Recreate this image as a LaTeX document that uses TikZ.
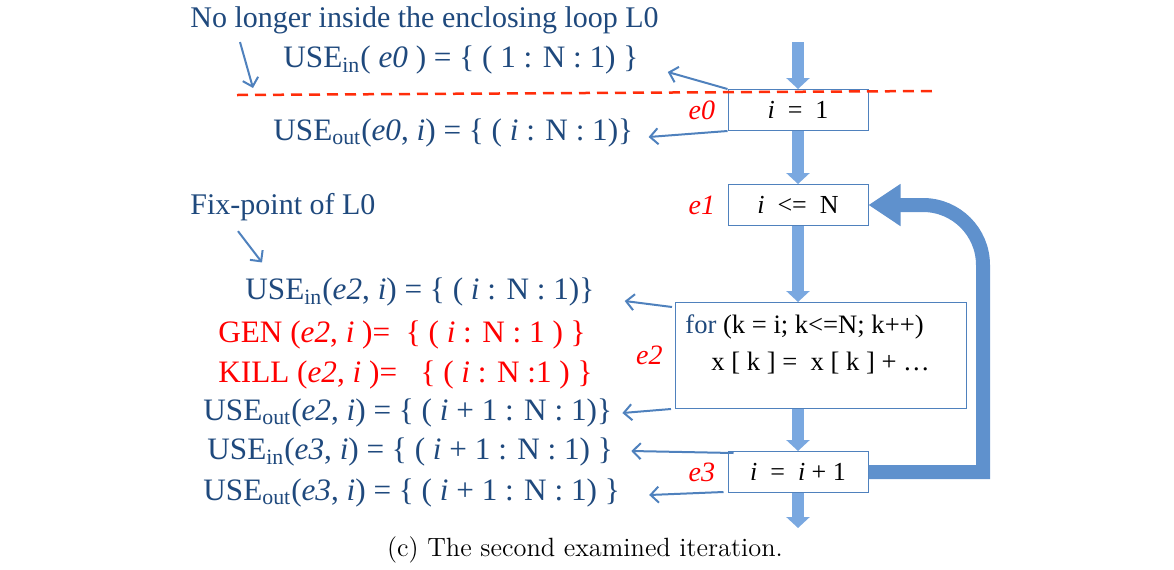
\documentclass[tikz,border=0pt]{standalone}
\usepackage{fontspec}
\newfontfamily\pptfont{Liberation Serif}
\usetikzlibrary{arrows.meta,positioning,calc}
\definecolor{txtblue}{RGB}{31,73,125}
\definecolor{linkblue}{RGB}{79,129,189}
\definecolor{flowblue}{RGB}{122,168,224}
\definecolor{loopblue}{RGB}{95,145,205}
\definecolor{cutred}{RGB}{255,45,10}

\begin{document}
\begin{tikzpicture}[x=0.5pt, y=-0.5pt,
  box/.style={rectangle, draw=linkblue, line width=0.5pt, fill=white,
              minimum width=70pt, minimum height=20.5pt, inner sep=0pt,
              font=\pptfont\fontsize{13}{15}\selectfont, text=black},
  setinfo/.style={anchor=west, inner sep=0pt, text=txtblue,
                  font=\pptfont\fontsize{15.6}{19}\selectfont},
  gensets/.style={setinfo, text=red},
  note/.style={setinfo, font=\pptfont\fontsize{15}{18}\selectfont},
  edgelbl/.style={inner sep=0pt, text=red,
                  font=\pptfont\itshape\fontsize{14}{16}\selectfont},
  flow/.style={-{Triangle[length=5.5pt, width=11.5pt]}, line width=6pt, draw=flowblue},
  pointer/.style={-{Straight Barb[length=4pt, width=8pt]}, line width=1pt, draw=linkblue},
  loopback/.style={-{Triangle[length=16pt, width=20pt]}, line width=7pt, draw=loopblue},
  cutline/.style={draw=cutred, line width=1.25pt, dash pattern=on 5.5pt off 3.5pt},
  node distance=6pt
]
  \useasboundingbox (0,0) rectangle (1174,569);

  % flow graph
  \node[box] (b0) at (798,110) {\textit{i} ~=~ 1};
  \node[box, below=26.5pt of b0] (b1) {\textit{i} ~<=~ N};
  \node[box, minimum width=145.5pt, minimum height=53pt,
        below=38pt of b1, xshift=11.5pt] (b2) {};
  \node[anchor=north west, align=left, inner sep=0pt,
        font=\pptfont\fontsize{13.3}{18.5}\selectfont]
        (b2code) at ($(b2.north west)+(10,12)$)
        {\textcolor{txtblue}{for} (k = i; k<=N; k++)\\
         \hspace*{13pt}x [ k ] = ~x [ k ] + \dots};
  \node[box, below=21pt of b2, xshift=-11.5pt] (b3) {\textit{i} ~=~ \textit{i} + 1};

  \node[edgelbl, left=of b0] (e0) {e0};
  \node[edgelbl, left=of b1] (e1) {e1};
  \node[edgelbl, left=of b2] (e2) {e2};
  \node[edgelbl, left=of b3] (e3) {e3};

  \coordinate (entry) at (798,42);
  \coordinate (exit) at (798,528);
  \coordinate (turn) at (983,300);

  \draw[flow] (entry) -- (b0.north);
  \draw[flow] (b0.south) -- (b1.north);
  \draw[flow] (b1.south) -- (b1.south |- b2.north);
  \draw[flow] (b2.south -| b3.north) -- (b3.north);
  \draw[flow] (b3.south) -- (exit);
  \draw[loopback] (b3.east) -| (turn) [rounded corners=30pt] |- (b1.east);

  % data-flow sets
  \node[note] (nolonger) at (190,20) {No longer inside the enclosing loop L0};
  \node[setinfo] (use0in) at (283,60)
    {USE\textsubscript{in}( \textit{e0} ) = \{ ( 1 : N : 1) \}};
  \node[setinfo] (use0out) at (273,133)
    {USE\textsubscript{out}(\textit{e0}, \textit{i}) = \{ ( \textit{i} : N : 1)\}};
  \node[note] (fixpt) at (190,207) {Fix-point of L0};
  \node[setinfo] (use2in) at (245,292)
    {USE\textsubscript{in}(\textit{e2}, \textit{i}) = \{ ( \textit{i} : N : 1)\}};
  \node[gensets] (gen2) at (218,335)
    {GEN (\textit{e2}, \textit{i} )= ~\{ ( \textit{i} : N : 1 ) \}};
  \node[gensets] (kill2) at (218,375)
    {KILL (\textit{e2}, \textit{i} )= ~~\{ ( \textit{i} : N :1 ) \}};
  \node[setinfo] (use2out) at (203,413)
    {USE\textsubscript{out}(\textit{e2}, \textit{i}) = \{ ( \textit{i} + 1 : N : 1)\}};
  \node[setinfo] (use3in) at (207,452)
    {USE\textsubscript{in}(\textit{e3}, \textit{i}) = \{ ( \textit{i} + 1 : N : 1) \}};
  \node[setinfo] (use3out) at (203,493)
    {USE\textsubscript{out}(\textit{e3}, \textit{i}) = \{ ( \textit{i} + 1 : N : 1) \}};

  \coordinate (cutl) at (237,95);
  \coordinate (cutr) at (932,91);
  \draw[cutline] (cutl) -- (cutr);

  \draw[pointer] ($(nolonger.south west)+(50,8)$) -- ($(cutl)+(16,-7)$);
  \draw[pointer] (b0.north west) -- ($(use0in.east)+(29,12)$);
  \draw[pointer] (b0.south west) -- ($(use0out.east)+(15,4)$);
  \draw[pointer] ($(fixpt.south west)+(48,10)$) -- ($(use2in.north west)+(17,-15)$);
  \draw[pointer] ($(b2.north west)+(-3,5)$) -- ($(use2in.east)+(30,9)$);
  \draw[pointer] ($(b2.south west)+(-4,0)$) -- ($(use2out.east)+(10,0)$);
  \draw[pointer] ($(b3.north west)+(6,2)$) -- ($(use3in.east)+(18,-1)$);
  \draw[pointer] ($(b3.south west)+(-4,-1)$) -- ($(use3out.east)+(29,2)$);

  \node[font=\fontsize{13.2}{16}\selectfont] (caption) at (585,550)
    {(c) The second examined iteration.};
\end{tikzpicture}
\end{document}
